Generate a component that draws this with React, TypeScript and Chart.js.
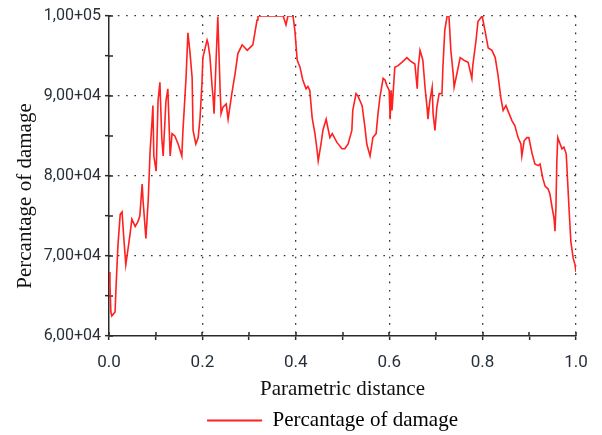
import React, { useEffect, useRef } from "react";
import { Chart, registerables } from "chart.js";

Chart.register(...registerables);

const distance = [
  0, 0.002, 0.004, 0.006, 0.013, 0.015, 0.019, 0.024, 0.028, 0.032, 0.036, 0.041, 0.045, 0.049, 0.056, 0.062,
  0.066, 0.071, 0.073, 0.079, 0.084, 0.088, 0.092, 0.094, 0.096, 0.101, 0.105, 0.109, 0.113, 0.116, 0.122,
  0.126, 0.131, 0.135, 0.141, 0.148, 0.156, 0.158, 0.165, 0.169, 0.173, 0.178, 0.18, 0.186, 0.191, 0.195,
  0.199, 0.201, 0.21, 0.212, 0.216, 0.221, 0.223, 0.225, 0.229, 0.233, 0.238, 0.24, 0.244, 0.251, 0.255,
  0.263, 0.27, 0.276, 0.285, 0.296, 0.308, 0.317, 0.319, 0.373, 0.379, 0.383, 0.394, 0.398, 0.403, 0.409,
  0.415, 0.422, 0.426, 0.43, 0.435, 0.441, 0.445, 0.448, 0.454, 0.458, 0.465, 0.467, 0.473, 0.478, 0.488,
  0.499, 0.505, 0.512, 0.52, 0.522, 0.529, 0.533, 0.542, 0.548, 0.552, 0.559, 0.563, 0.565, 0.572, 0.576,
  0.58, 0.587, 0.591, 0.595, 0.6, 0.602, 0.604, 0.606, 0.612, 0.619, 0.627, 0.638, 0.645, 0.655, 0.66,
  0.662, 0.666, 0.672, 0.677, 0.681, 0.683, 0.687, 0.692, 0.694, 0.698, 0.702, 0.707, 0.713, 0.715, 0.719,
  0.724, 0.728, 0.732, 0.737, 0.739, 0.745, 0.752, 0.762, 0.769, 0.777, 0.779, 0.786, 0.79, 0.799, 0.805,
  0.812, 0.82, 0.827, 0.833, 0.839, 0.844, 0.85, 0.854, 0.863, 0.869, 0.876, 0.882, 0.884, 0.889, 0.895,
  0.899, 0.906, 0.912, 0.919, 0.923, 0.929, 0.934, 0.94, 0.944, 0.949, 0.953, 0.955, 0.957, 0.959, 0.961,
  0.966, 0.97, 0.974, 0.979, 0.981, 0.985, 0.989, 0.994, 0.998, 1.0,
];

const damage = [
  68000, 66500, 63000, 62500, 63000, 66000, 71200, 75200, 75500, 72000, 68900, 71000, 72700, 74600, 73700, 74300,
  75000, 79000, 76900, 72200, 77000, 83100, 86700, 88800, 82500, 80600, 89400, 91700, 84800, 82500, 89400,
  90900, 82500, 85300, 85000, 84000, 82500, 85300, 92300, 97900, 95700, 92300, 85700, 84000, 84800, 87300,
  91500, 94800, 97000, 96600, 95000, 91000, 89800, 87800, 94000, 99900, 90700, 87800, 88600, 89000, 87100,
  90300, 92800, 95300, 96400, 95700, 96400, 99500, 100000, 100000, 98900, 100000, 100000, 98200, 94500, 93600,
  92000, 90900, 91200, 90700, 87300, 85300, 83500, 81900, 84000, 85700, 87100, 86500, 84800, 85300, 84200,
  83400, 83400, 84000, 85700, 88200, 90300, 90000, 88800, 86100, 84000, 82500, 84000, 84800, 85300, 87800,
  89800, 92200, 92000, 91300, 90700, 87100, 90700, 88200, 93600, 93800, 94200, 94800, 94400, 94000, 90900,
  93500, 95700, 94500, 90900, 88600, 87100, 89400, 91100, 87800, 85700, 88600, 90300, 90300, 93600, 98200,
  100000, 100000, 95700, 92800, 91100, 92800, 94800, 94400, 94200, 92200, 93800, 97000, 99300, 100000, 98200,
  96000, 95700, 94800, 92600, 89800, 88200, 88800, 88200, 86900, 86300, 84800, 84000, 82500, 84400, 84800,
  84800, 82800, 81500, 81300, 81500, 79700, 78700, 78400, 77800, 76000, 74700, 73100, 76000, 81900, 84800,
  84000, 83400, 83600, 82800, 80600, 76000, 71800, 69700, 68900, 68000,
];

const SERIES_LABEL = "Percantage of damage";
const X_TITLE = "Parametric distance";
const Y_TITLE = "Percantage of damage";
const X_MIN = 0;
const X_MAX = 1;
const X_STEP = 0.1;
const Y_MIN = 60000;
const Y_MAX = 100000;
const Y_STEP = 5000;

const AXIS_COLOR = "#2a2a2a";
const GRID_COLOR = "#333333";
const TICK_TEXT = "#27303a";
const LINE_COLOR = "#ff2020";
const SERIF = "'Liberation Serif', 'Times New Roman', serif";
const SANS = "Roboto, 'Liberation Sans', sans-serif";

function formatSci(v: number): string {
  const exp = Math.floor(Math.log10(v) + 1e-9);
  const mant = v / Math.pow(10, exp);
  return `${mant.toFixed(2).replace(".", ",")}+${String(exp).padStart(2, "0")}`;
}

const isMajorX = (v: number) => Math.round(v * 10) % 2 === 0;
const isMajorY = (v: number) => Math.round(v) % 10000 === 0;

const innerTicks = {
  id: "innerTicks",
  beforeDatasetsDraw(chart: any) {
    const { ctx, chartArea, scales } = chart;
    const xs = scales.x;
    const ys = scales.y;
    ctx.save();
    ctx.strokeStyle = AXIS_COLOR;
    ctx.lineWidth = 1.5;
    xs.ticks.forEach((t: any) => {
      const px = Math.round(xs.getPixelForValue(t.value));
      ctx.beginPath();
      ctx.moveTo(px, chartArea.bottom);
      ctx.lineTo(px, chartArea.bottom - 4);
      ctx.stroke();
    });
    ys.ticks.forEach((t: any) => {
      const py = Math.round(ys.getPixelForValue(t.value));
      ctx.beginPath();
      ctx.moveTo(chartArea.left, py);
      ctx.lineTo(chartArea.left + 4, py);
      ctx.stroke();
    });
    ctx.restore();
  },
};

const legendShift = {
  id: "legendShift",
  afterLayout(chart: any) {
    const lg = chart.legend;
    if (lg) {
      lg.left -= 10;
      lg.right -= 10;
      lg.top += 6;
      lg.bottom += 6;
      if (lg.adjustHitBoxes) lg.adjustHitBoxes();
    }
  },
};

const yTitlePlugin = {
  id: "yTitle",
  afterDraw(chart: any) {
    const { ctx, chartArea } = chart;
    ctx.save();
    ctx.translate(25, (chartArea.top + chartArea.bottom) / 2 + 20);
    ctx.rotate(-Math.PI / 2);
    ctx.font = `21px ${SERIF}`;
    ctx.fillStyle = "#111111";
    ctx.textAlign = "center";
    ctx.textBaseline = "middle";
    ctx.fillText(Y_TITLE, 0, 0);
    ctx.restore();
  },
};

export default function App() {
  const canvasRef = useRef<HTMLCanvasElement | null>(null);

  useEffect(() => {
    if (!canvasRef.current) return;
    const points = distance.map((d, i) => ({ x: d, y: damage[i] }));
    const chart = new Chart(canvasRef.current, {
      type: "line",
      data: {
        datasets: [
          {
            label: SERIES_LABEL,
            data: points,
            borderColor: LINE_COLOR,
            backgroundColor: LINE_COLOR,
            borderWidth: 1.6,
            pointRadius: 0,
            tension: 0,
            fill: false,
          },
        ],
      },
      options: {
        animation: false,
        responsive: true,
        maintainAspectRatio: false,
        layout: { padding: { left: 0, right: 26, top: 16, bottom: 0 } },
        plugins: {
          tooltip: { enabled: false },
          legend: {
            position: "bottom",
            fullSize: false,
            labels: {
              font: { family: SERIF, size: 21 },
              color: "#111111",
              boxWidth: 55,
              boxHeight: 2,
              padding: 0,
              generateLabels: () => [
                {
                  text: SERIES_LABEL,
                  fillStyle: LINE_COLOR,
                  strokeStyle: LINE_COLOR,
                  lineWidth: 0,
                  hidden: false,
                  datasetIndex: 0,
                },
              ],
            },
          },
        },
        scales: {
          x: {
            type: "linear",
            min: X_MIN,
            max: X_MAX,
            afterFit: (scale: any) => {
              scale.height = 68;
            },
            border: { display: true, color: AXIS_COLOR, width: 1.5, dash: [1.6, 6.7] },
            grid: {
              drawOnChartArea: true,
              color: (c: any) => (c.tick && isMajorX(c.tick.value) && c.tick.value > X_MIN ? GRID_COLOR : "rgba(0,0,0,0)"),
              lineWidth: 1.3,
              tickColor: AXIS_COLOR,
              tickLength: 4,
              tickWidth: 1.5,
              tickBorderDash: [],
            },
            ticks: {
              stepSize: X_STEP,
              autoSkip: false,
              maxRotation: 0,
              padding: 13,
              color: TICK_TEXT,
              font: { family: SANS, size: 17 },
              callback: (v: any) => (isMajorX(Number(v)) ? Number(v).toFixed(1) : ""),
            },
            title: {
              display: true,
              text: X_TITLE,
              color: "#111111",
              font: { family: SERIF, size: 21 },
              padding: { top: 6, bottom: 2.4 },
            },
          },
          y: {
            type: "linear",
            min: Y_MIN,
            max: Y_MAX,
            afterFit: (scale: any) => {
              scale.width = 109;
            },
            border: { display: true, color: AXIS_COLOR, width: 1.5, dash: [1.6, 6.7] },
            grid: {
              drawOnChartArea: true,
              color: (c: any) => (c.tick && isMajorY(c.tick.value) && c.tick.value > Y_MIN ? GRID_COLOR : "rgba(0,0,0,0)"),
              lineWidth: 1.3,
              tickColor: AXIS_COLOR,
              tickLength: 4,
              tickWidth: 1.5,
              tickBorderDash: [],
            },
            ticks: {
              stepSize: Y_STEP,
              autoSkip: false,
              padding: 4,
              color: TICK_TEXT,
              font: { family: SANS, size: 16 },
              callback: (v: any) => (isMajorY(Number(v)) ? formatSci(Number(v)) : ""),
            },
            title: { display: false },
          },
        },
      },
      plugins: [innerTicks, legendShift, yTitlePlugin],
    } as any);
    return () => chart.destroy();
  }, []);

  return (
    <div style={{ position: "absolute", left: 0, top: 0, width: 602, height: 435, background: "#ffffff" }}>
      <canvas ref={canvasRef} />
    </div>
  );
}
